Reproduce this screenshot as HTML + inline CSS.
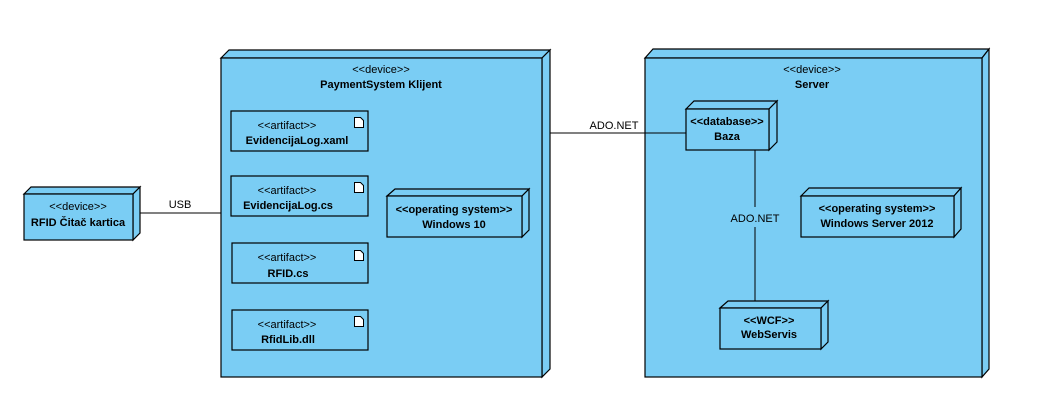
<!DOCTYPE html>
<html><head><meta charset="utf-8"><style>
body{margin:0;background:#fff}
svg{display:block}
text{font-family:"Liberation Sans",Arial,sans-serif;font-size:11px;fill:#000}
.b{font-weight:bold}
</style></head><body>
<svg width="1039" height="418" viewBox="0 0 1039 418" xmlns="http://www.w3.org/2000/svg">
<g fill="#7acdf4" stroke="#000" stroke-width="1.2" stroke-linejoin="miter">
<!-- RFID -->
<polygon points="24,194 31,187 140,187 133,194"/><polygon points="133,194 140,187 140,233 133,240"/><rect x="24" y="194" width="109" height="46"/>
<!-- Client -->
<polygon points="221,58 229,50 550,50 542,58"/><polygon points="542,58 550,50 550,369 542,377"/><rect x="221" y="58" width="321" height="319"/>
<!-- Server -->
<polygon points="645,58 653,49 989,49 982,58"/><polygon points="982,58 989,49 989,369 982,377"/><rect x="645" y="58" width="337" height="319"/>
<!-- artifacts -->
<rect x="231" y="111" width="137" height="40"/>
<rect x="231" y="176" width="137" height="40"/>
<rect x="232" y="243" width="136" height="40"/>
<rect x="232" y="310" width="136" height="40"/>
<!-- Windows 10 -->
<polygon points="387,196 395,189 529,189 522,196"/><polygon points="522,196 529,189 529,230 522,237"/><rect x="387" y="196" width="135" height="41"/>
<!-- Baza -->
<polygon points="686,109 694,101 777,101 769,109"/><polygon points="769,109 777,101 777,142 769,150"/><rect x="686" y="109" width="83" height="41"/>
<!-- Win Server -->
<polygon points="801,196 809,188 961,188 954,196"/><polygon points="954,196 961,188 961,229 954,237"/><rect x="801" y="196" width="153" height="41"/>
<!-- WebServis -->
<polygon points="720,308 728,301 828,301 821,308"/><polygon points="821,308 828,301 828,342 821,349"/><rect x="720" y="308" width="101" height="41"/>
</g>
<g stroke="#000" stroke-width="1" fill="none">
<line x1="140" y1="213" x2="221" y2="213"/>
<line x1="550" y1="133" x2="686" y2="133"/>
<line x1="755" y1="150" x2="755" y2="207"/>
<line x1="755" y1="227" x2="755" y2="301"/>
<path d="M354.5,117.5 h6 l3,3 v7 h-9 z" fill="#fff"/>
<path d="M354.5,182.5 h6 l3,3 v7 h-9 z" fill="#fff"/>
<path d="M354.5,250.5 h6 l3,3 v7 h-9 z" fill="#fff"/>
<path d="M354.5,316.5 h6 l3,3 v7 h-9 z" fill="#fff"/>
</g>
<g text-anchor="middle">
<text x="78" y="210">&lt;&lt;device&gt;&gt;</text>
<text x="78" y="226" class="b">RFID Čitač kartica</text>
<text x="180" y="212" dy="-4">USB</text>
<text x="381" y="73">&lt;&lt;device&gt;&gt;</text>
<text x="381" y="88" class="b">PaymentSystem Klijent</text>
<text x="287" y="129">&lt;&lt;artifact&gt;&gt;</text>
<text x="297" y="144" class="b">EvidencijaLog.xaml</text>
<text x="287" y="194">&lt;&lt;artifact&gt;&gt;</text>
<text x="288" y="209" class="b">EvidencijaLog.cs</text>
<text x="287" y="261">&lt;&lt;artifact&gt;&gt;</text>
<text x="288" y="277" class="b">RFID.cs</text>
<text x="287" y="328">&lt;&lt;artifact&gt;&gt;</text>
<text x="288" y="343" class="b">RfidLib.dll</text>
<text x="454" y="213" class="b">&lt;&lt;operating system&gt;&gt;</text>
<text x="454" y="228" class="b">Windows 10</text>
<text x="614" y="129">ADO.NET</text>
<text x="812" y="73">&lt;&lt;device&gt;&gt;</text>
<text x="812" y="88" class="b">Server</text>
<text x="727" y="125" class="b">&lt;&lt;database&gt;&gt;</text>
<text x="727" y="140" class="b">Baza</text>
<text x="755" y="222">ADO.NET</text>
<text x="877" y="212" class="b">&lt;&lt;operating system&gt;&gt;</text>
<text x="877" y="227" class="b">Windows Server 2012</text>
<text x="769" y="324" class="b">&lt;&lt;WCF&gt;&gt;</text>
<text x="769" y="338" class="b">WebServis</text>
</g>
</svg>
</body></html>
